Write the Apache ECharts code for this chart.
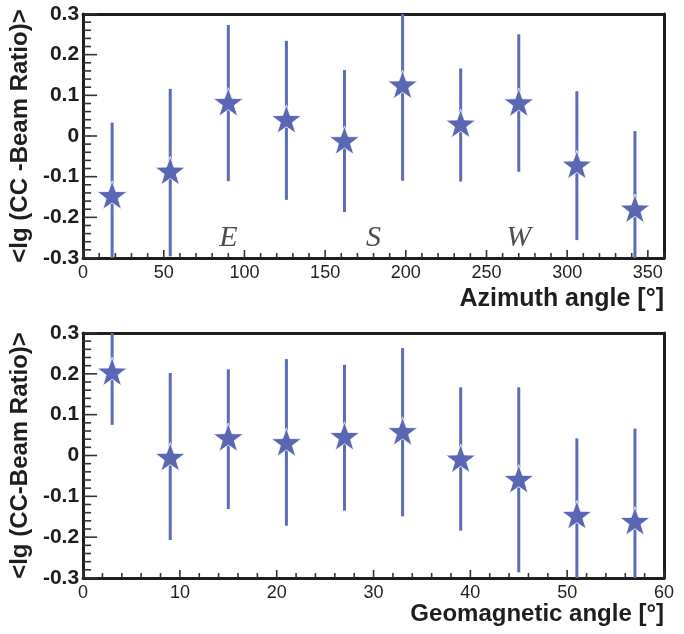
<!DOCTYPE html>
<html><head><meta charset="utf-8">
<script src="https://cdn.jsdelivr.net/npm/echarts@6/dist/echarts.min.js"></script>
<style>html,body{margin:0;padding:0;background:#fff}#c{width:684px;height:634px}</style>
</head><body><div id="c"></div><script>
// ---- data ----
const azimuth = [18, 54, 90, 126, 162, 198, 234, 270, 306, 342];
const azMean  = [-0.149, -0.089, 0.080, 0.038, -0.014, 0.123, 0.027, 0.079, -0.074, -0.182];
const azLow   = [-0.331, -0.296, -0.111, -0.157, -0.187, -0.110, -0.112, -0.088, -0.256, -0.376];
const azHigh  = [0.033, 0.116, 0.273, 0.234, 0.162, 0.356, 0.166, 0.250, 0.110, 0.012];

const geo     = [3, 9, 15, 21, 27, 33, 39, 45, 51, 57];
const geoMean = [0.202, -0.007, 0.041, 0.029, 0.044, 0.056, -0.011, -0.061, -0.149, -0.164];
const geoLow  = [0.075, -0.207, -0.131, -0.172, -0.135, -0.149, -0.184, -0.286, -0.340, -0.394];
const geoHigh = [0.329, 0.202, 0.211, 0.236, 0.222, 0.263, 0.167, 0.167, 0.042, 0.066];

const compassNames = ['E', 'S', 'W'];
const compassAz    = [90, 180, 270];
const compassY     = [-0.25, -0.25, -0.25];

// tick values
const azMajor  = [0, 50, 100, 150, 200, 250, 300, 350];
const azStep   = 10;
const geoMajor = [0, 10, 20, 30, 40, 50, 60];
const geoStep  = 2;
const yMajor   = [-0.3, -0.2, -0.1, 0, 0.1, 0.2, 0.3];
const yStep    = 0.02;

const yTitleTop = '<lg (CC -Beam Ratio)>';
const yTitleBot = '<lg (CC-Beam Ratio)>';
const xTitleTop = 'Azimuth angle [°]';
const xTitleBot = 'Geomagnetic angle [°]';

// ---- style ----
const markColor = '#5a67b2';
const barColor = '#5d6cb6';
const frameColor = '#1e1e1e';
const tickColor = '#333333';
const starPath = 'path://M100,0L123.51,67.64L195.11,69.1L138.04,112.36L158.78,180.9L100,140L41.22,180.9L61.96,112.36L4.89,69.1L76.49,67.64Z';
const starSize = [30, 28.5];

// one custom renderer: kind 0 = error bar, 1/2 = x major/minor tick, 3/4 = y major/minor tick
function barTickRender(params, api) {
  const kind = api.value(3);
  const x = api.value(0), a = api.value(1), b = api.value(2);
  const cs = params.coordSys;
  if (kind === 0) {
    const p1 = api.coord([x, a]), p2 = api.coord([x, b]);
    const t = cs.y, bt = cs.y + cs.height;
    const y1 = Math.min(Math.max(p1[1], t), bt);
    const y2 = Math.min(Math.max(p2[1], t), bt);
    return { type: 'line', shape: { x1: p1[0], y1: y1, x2: p2[0], y2: y2 },
             style: { stroke: barColor, lineWidth: 3 } };
  }
  const p = api.coord([x, a]);
  const L = kind === 1 ? 8 : kind === 2 ? 5 : kind === 3 ? 14 : 8;
  const shape = kind < 3 ? { x1: p[0], y1: p[1], x2: p[0], y2: p[1] - L }
                         : { x1: p[0], y1: p[1], x2: p[0] + L, y2: p[1] };
  return { type: 'line', shape: shape, style: { stroke: tickColor, lineWidth: 1.6 } };
}
function buildRows(xs, lows, highs, xMajor, xStep, xMin, xMax) {
  const out = xs.map((x, i) => [x, lows[i], highs[i], 0]);
  const isMaj = (v, arr) => arr.some(m => Math.abs(m - v) < 1e-9);
  const nx = Math.round((xMax - xMin) / xStep);
  for (let i = 0; i <= nx; i++) {
    const v = xMin + i * xStep;
    out.push([v, -0.3, -0.3, isMaj(v, xMajor) ? 1 : 2]);
  }
  for (let i = 0; i <= 30; i++) {
    const v = Math.round((-0.3 + i * yStep) * 1000) / 1000;
    out.push([xMin, v, v, isMaj(v, yMajor) ? 3 : 4]);
  }
  return out;
}

function frameLine() { return { show: true, onZero: false, lineStyle: { color: frameColor, width: 3 } }; }
function yLabel() { return { fontFamily: 'Liberation Sans', fontWeight: 'bold', fontSize: 21, color: '#1e1e1e', margin: 4 }; }
function xLabel(extra) { return Object.assign({ fontFamily: 'Liberation Sans', fontSize: 18, color: '#222', margin: 6 }, extra || {}); }

function yAxis(grid, name) {
  return {
    type: 'value', gridIndex: grid, min: -0.3, max: 0.3, interval: 0.1,
    axisLine: frameLine(), splitLine: { show: false }, axisTick: { show: false },
    axisLabel: yLabel(),
    name: name, nameLocation: 'middle', nameRotate: 90, nameGap: 50,
    nameTextStyle: { fontFamily: 'Liberation Sans', fontWeight: 'bold', fontSize: 24, color: '#1e1e1e' }
  };
}
function yRight(grid) {
  return { type: 'value', gridIndex: grid, min: -0.3, max: 0.3, position: 'right',
    axisLine: frameLine(), axisTick: { show: false }, axisLabel: { show: false }, splitLine: { show: false } };
}

const option = {
  animation: false,
  title: [
    { text: xTitleTop, right: 15, top: 282,
      textStyle: { fontFamily: 'Liberation Sans', fontWeight: 'bold', fontSize: 25, color: '#1e1e1e' } },
    { text: xTitleBot, right: 15, top: 597,
      textStyle: { fontFamily: 'Liberation Sans', fontWeight: 'bold', fontSize: 24, color: '#1e1e1e' } }
  ],
  grid: [
    { left: 82, top: 14, width: 582, height: 244 },
    { left: 82, top: 333, width: 582, height: 245 }
  ],
  xAxis: [
    { type: 'value', gridIndex: 0, min: 0, max: 360, interval: 50,
      axisLine: frameLine(), splitLine: { show: false }, axisTick: { show: false },
      axisLabel: xLabel({ showMaxLabel: false }) },
    { type: 'value', gridIndex: 1, min: 0, max: 60, interval: 10,
      axisLine: frameLine(), splitLine: { show: false }, axisTick: { show: false },
      axisLabel: xLabel() },
    { type: 'value', gridIndex: 0, min: 0, max: 360, position: 'top',
      axisLine: frameLine(), axisTick: { show: false }, axisLabel: { show: false }, splitLine: { show: false } },
    { type: 'value', gridIndex: 1, min: 0, max: 60, position: 'top',
      axisLine: frameLine(), axisTick: { show: false }, axisLabel: { show: false }, splitLine: { show: false } }
  ],
  yAxis: [ yAxis(0, yTitleTop), yAxis(1, yTitleBot), yRight(0), yRight(1) ],
  series: [
    { type: 'custom', xAxisIndex: 0, yAxisIndex: 0, renderItem: barTickRender,
      data: buildRows(azimuth, azLow, azHigh, azMajor, azStep, 0, 360) },
    { type: 'scatter', xAxisIndex: 0, yAxisIndex: 0, z: 3,
      symbol: starPath, symbolSize: starSize, symbolOffset: [0, -1.5],
      itemStyle: { color: markColor, opacity: 1, borderColor: '#ffffff', borderWidth: 0.8 },
      data: azimuth.map((x, i) => [x, azMean[i]]) },
    { type: 'scatter', xAxisIndex: 0, yAxisIndex: 0, z: 3, symbolSize: 0,
      label: { show: true, position: 'inside', formatter: p => p.name,
               fontFamily: 'Liberation Serif', fontStyle: 'italic', fontSize: 30, color: '#222' },
      data: compassAz.map((x, i) => ({ name: compassNames[i], value: [x, compassY[i]] })) },
    { type: 'custom', xAxisIndex: 1, yAxisIndex: 1, renderItem: barTickRender,
      data: buildRows(geo, geoLow, geoHigh, geoMajor, geoStep, 0, 60) },
    { type: 'scatter', xAxisIndex: 1, yAxisIndex: 1, z: 3,
      symbol: starPath, symbolSize: starSize, symbolOffset: [0, -1.5],
      itemStyle: { color: markColor, opacity: 1, borderColor: '#ffffff', borderWidth: 0.8 },
      data: geo.map((x, i) => [x, geoMean[i]]) }
  ]
};
const chart = echarts.init(document.getElementById('c'));
chart.setOption(option);
</script></body></html>
